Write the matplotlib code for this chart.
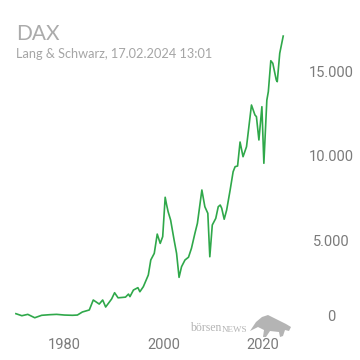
import matplotlib
matplotlib.use("Agg")
import matplotlib.pyplot as plt
import matplotlib.transforms as mtransforms
from matplotlib.patches import Polygon

# DAX history (decimal year, index points)
years = [1970.2, 1971.4, 1972.6, 1974.0, 1975.4, 1977.0, 1978.4, 1980.0, 1981.6,
         1982.6, 1983.6, 1985.0, 1985.8, 1986.4, 1987.0, 1987.7, 1988.3, 1989.5,
         1990.1, 1990.8, 1991.6, 1992.3, 1992.9, 1993.2, 1993.9, 1994.8, 1995.2,
         1995.9, 1996.9, 1997.4, 1998.1, 1998.7, 1999.3, 1999.8, 2000.3, 2000.6,
         2000.9, 2001.4, 2002.1, 2002.6, 2003.1, 2003.6, 2004.3, 2005.0, 2005.6,
         2006.3, 2006.8, 2007.7, 2008.3, 2008.9, 2009.3, 2009.8, 2010.5, 2011.0,
         2011.4, 2011.7, 2012.2, 2012.7, 2013.4, 2014.0, 2014.4, 2014.9, 2015.4,
         2016.0, 2016.7, 2017.7, 2018.4, 2018.7, 2019.2, 2019.8, 2020.2, 2020.8,
         2021.1, 2021.6, 2022.0, 2022.7, 2022.9, 2023.4, 2024.1]
values = [640, 520, 600, 400, 545, 580, 600, 560, 545,
          560, 740, 860, 1450, 1330, 1210, 1450, 1035, 1510,
          1880, 1580, 1600, 1620, 1800, 1650, 2040, 2180, 1940,
          2240, 2930, 3820, 4210, 5350, 4800, 5200, 7530, 7070,
          6670, 6180, 5000, 4210, 2790, 3420, 3820, 3980, 4510,
          5400, 5990, 7960, 6970, 6580, 4010, 5890, 6280, 6970,
          7070, 6880, 6230, 6780, 7960, 9040, 9340, 9380, 10800,
          9930, 10520, 12990, 12400, 12300, 10920, 12890, 9540, 13280,
          13780, 15610, 15460, 14470, 14370, 16050, 17070]

x_ticks = [1980, 2000, 2020]
y_ticks = [0, 5000, 10000, 15000]
y_labels = ["0", "5.000", "10.000", "15.000"]

title = "DAX"
subtitle = "Lang & Schwarz, 17.02.2024 13:01"

fig = plt.figure(figsize=(3.6, 3.6), dpi=100)
ax = fig.add_axes([0.0414, 0.0986, 0.7508, 0.8214])

ax.plot(years, values, color="#2fa84a", lw=1.2, solid_joinstyle="round")
ax.set_xlim(1970, 2024.5)
ax.set_ylim(0, 17500)

for s in ax.spines.values():
    s.set_visible(False)

ax.set_xticks(x_ticks)
ax.set_xticklabels([str(t) for t in x_ticks])
ax.tick_params(axis="x", length=0, pad=10, labelsize=10.5, labelcolor="#7b7b7b")

ax.yaxis.tick_right()
ax.set_yticks(y_ticks)
ax.set_yticklabels(y_labels)
ax.tick_params(axis="y", length=0, pad=33, labelsize=10.5, labelcolor="#7b7b7b")
for lbl in ax.get_yticklabels():
    lbl.set_horizontalalignment("center")
    lbl.set_fontfamily("Roboto")
for lbl in ax.get_xticklabels():
    lbl.set_fontfamily("Roboto")
# the "0" label sits a bit above the baseline in the reference
zero_lbl = ax.get_yticklabels()[0]
zero_lbl.set_transform(zero_lbl.get_transform() +
                       mtransforms.ScaledTranslation(0, 9 / 100, fig.dpi_scale_trans))

fig.text(16 / 360, 1 - 34 / 360, title, fontsize=15, color="#ababab",
         family="Lato", va="center", ha="left")
fig.text(16 / 360, 1 - 54 / 360, subtitle, fontsize=9.2, color="#a5a5a5",
         family="Lato", va="center", ha="left")

# boersenNEWS watermark
wm = fig.text(190 / 360, 1 - 334 / 360, "börsen", fontsize=8.5, color="#b4b4b4",
              family="Liberation Serif", va="bottom", ha="left")
ax.annotate("NEWS", xy=(1, 0), xycoords=wm, xytext=(0.5, 0),
            textcoords="offset points", fontsize=6.5, color="#b4b4b4",
            family="Liberation Serif", va="bottom", ha="left",
            annotation_clip=False)
bull = [(250, 331), (256, 322), (262, 317), (268, 315), (274, 318), (280, 321),
        (286, 324), (291, 327), (289, 331), (285, 330), (283, 336), (280, 337),
        (279, 332), (270, 331), (266, 337), (263, 337), (264, 330), (258, 327)]
fig.patches.append(Polygon([(x / 360, 1 - y / 360) for x, y in bull], closed=True,
                           transform=fig.transFigure, facecolor="#b4b4b4",
                           edgecolor="none"))

fig.savefig("out.png", dpi=100, facecolor="white")
